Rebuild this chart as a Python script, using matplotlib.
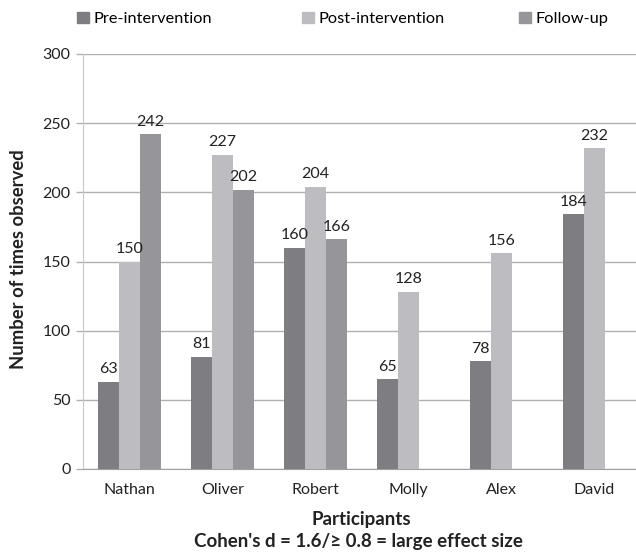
import numpy as np
import matplotlib.pyplot as plt
from matplotlib.patches import Patch

# data
participants = ['Nathan', 'Oliver', 'Robert', 'Molly', 'Alex', 'David']
pre = [63, 81, 160, 65, 78, 184]
post = [150, 227, 204, 128, 156, 232]
follow = [242, 202, 166, None, None, None]
series_names = ['Pre-intervention', 'Post-intervention', 'Follow-up']
colors = ['#7e7e82', '#bdbdc1', '#96969a']
yticks = [0, 50, 100, 150, 200, 250, 300]

plt.rcParams['font.family'] = ['Lato', 'DejaVu Sans']

fig = plt.figure(figsize=(6.36, 5.55), dpi=100)
# plot area runs past the right edge, as in the reference
ax = fig.add_axes([83 / 636, 86 / 555, 558 / 636, 415 / 555])

x = np.arange(len(participants))
w = 0.225
for i, (vals, c) in enumerate(zip([pre, post, follow], colors)):
    xs = [xi + (i - 1) * w for xi, v in zip(x, vals) if v is not None]
    vs = [v for v in vals if v is not None]
    bars = ax.bar(xs, vs, width=w, color=c, zorder=3)
    for b, v in zip(bars, vs):
        ax.text(b.get_x() + b.get_width() / 2, v + 4, str(v), ha='center',
                va='bottom', fontsize=11.5, color='#222222', zorder=4)

ax.set_xlim(-0.5, len(participants) - 0.5)
ax.set_ylim(0, 300)
ax.set_yticks(yticks)
ax.yaxis.grid(True, color='#b0b0b0', linewidth=1, zorder=0)
ax.set_axisbelow(True)
ax.set_xticks(x)
ax.set_xticklabels(participants)
ax.tick_params(axis='x', length=0, pad=10, labelsize=11.5, colors='#222222')
ax.tick_params(axis='y', length=5, width=1, color='#b0b0b0', pad=4,
               labelsize=11.5, labelcolor='#222222')

for s in ['top', 'right']:
    ax.spines[s].set_visible(False)
ax.spines['left'].set_color('#c8c8c8')
ax.spines['bottom'].set_color('#a0a0a0')

fig.text(19 / 636, 1 - 259 / 555, 'Number of times observed', rotation=90,
         ha='center', va='center', fontsize=13.3, fontweight='bold', color='#222222')
fig.text(361 / 636, 1 - 520 / 555, 'Participants', ha='center', va='center',
         fontsize=13.5, fontweight='bold', color='#222222')
fig.text(358 / 636, 1 - 542 / 555, "Cohen's d = 1.6/\u2265 0.8 = large effect size",
         ha='center', va='center', fontsize=13.5, fontweight='bold', color='#222222')

# one legend entry per series, placed where the reference has them
legend_x = [77, 302, 519]
for name, c, lx in zip(series_names, colors, legend_x):
    leg = fig.legend([Patch(color=c)], [name], loc='center left',
                     bbox_to_anchor=(lx / 636, 1 - 19 / 555), frameon=False,
                     fontsize=11.8, handlelength=0.72, handleheight=0.72,
                     handletextpad=0.3, borderpad=0, borderaxespad=0)

fig.savefig('out.png', dpi=100)
